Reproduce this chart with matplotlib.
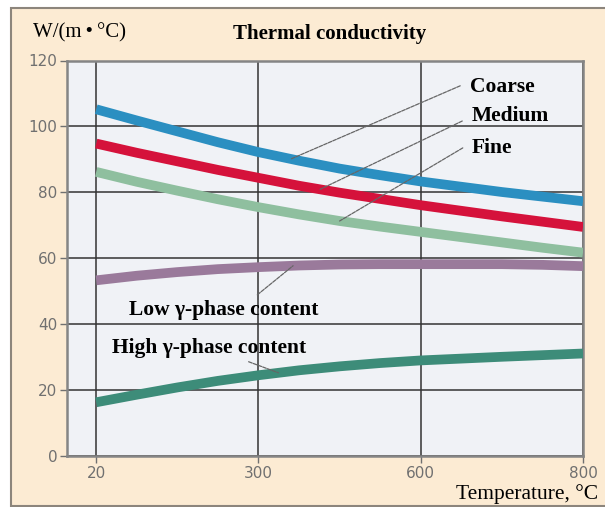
import numpy as np
import matplotlib
matplotlib.use("Agg")
import matplotlib.pyplot as plt
from matplotlib.patches import Rectangle

# temperature ticks are evenly spaced on the chart even though values are not
tick_temps = [20, 300, 600, 800]
tick_pos = [0, 1, 2, 3]

temps = [20, 90, 160, 230, 300, 375, 450, 525, 600, 700, 750, 800]
coarse = [105.2, 101.8, 98.5, 95.2, 92.2, 89.6, 87.2, 85.2, 83.3, 80.1, 78.7, 77.3]
medium = [94.8, 92.0, 89.4, 86.8, 84.4, 82.0, 79.9, 78.0, 76.1, 72.7, 71.1, 69.5]
fine = [86.2, 83.2, 80.5, 77.9, 75.5, 73.3, 71.3, 69.6, 68.0, 64.8, 63.2, 61.7]
low_gamma = [53.3, 54.7, 55.8, 56.7, 57.3, 57.8, 58.1, 58.2, 58.2, 58.2, 58.0, 57.6]
high_gamma = [16.3, 18.6, 20.8, 22.8, 24.5, 26.0, 27.2, 28.2, 29.0, 30.1, 30.6, 31.1]

y_ticks = [0, 20, 40, 60, 80, 100, 120]


def to_pos(t):
    return np.interp(t, tick_temps, tick_pos)


def on_curve(vals, t):
    return (to_pos(t), np.interp(t, temps, vals))


serif = ["Liberation Serif", "DejaVu Serif"]

fig = plt.figure(figsize=(6.05, 5.07), dpi=100, facecolor="white")
fig.patches.append(Rectangle((11 / 605, 1 / 507), 1, 498 / 507, transform=fig.transFigure,
                             facecolor="#fcebd3", edgecolor="#8c857c", lw=1.5, zorder=-5))

ax = fig.add_axes([67 / 605, 51 / 507, 516 / 605, 395.5 / 507])
ax.set_zorder(2)
ax.set_facecolor("#f0f2f6")

series = [
    (coarse, "#2b8fc1"),
    (medium, "#d5123b"),
    (fine, "#8fbf9f"),
    (low_gamma, "#9a7a9b"),
    (high_gamma, "#3d8c79"),
]
xs = to_pos(temps)
for vals, col in series:
    ax.plot(xs, vals, color=col, lw=7, solid_capstyle="butt", zorder=3)

ax.set_xlim(-0.18, 3)
ax.set_ylim(0, 120)
ax.set_xticks(tick_pos)
ax.set_xticklabels([str(t) for t in tick_temps])
ax.set_yticks(y_ticks)
ax.grid(True, color="#333333", lw=1.1, zorder=1)
ax.set_axisbelow(True)
for s in ax.spines.values():
    s.set_color("#858585")
    s.set_linewidth(1.8)
ax.tick_params(colors="#707070", labelcolor="#707070", labelsize=11, length=5, width=1, pad=2)

# leader lines, from label to curve
lead = dict(arrowstyle="-", color="#666666", lw=0.9, linestyle=(0, (3, 1)),
            shrinkA=0, shrinkB=0)
bold = dict(fontfamily=serif, fontweight="bold", fontsize=15.5, color="black")

ax.annotate("", xy=on_curve(coarse, 360), xytext=(0.762, 0.936),
            textcoords="axes fraction", arrowprops=lead, zorder=4)
ax.annotate("", xy=on_curve(medium, 414), xytext=(0.766, 0.847),
            textcoords="axes fraction", arrowprops=lead, zorder=4)
ax.annotate("", xy=on_curve(fine, 450), xytext=(0.767, 0.779),
            textcoords="axes fraction", arrowprops=lead, zorder=4)
ax.annotate("", xy=on_curve(low_gamma, 364), xytext=(to_pos(298), 48.9),
            arrowprops=lead, zorder=4)
ax.annotate("", xy=on_curve(high_gamma, 337), xytext=(to_pos(283), 28.6),
            arrowprops=lead, zorder=4)

ax.text(0.781, 0.933, "Coarse", transform=ax.transAxes, va="center", **bold)
ax.text(0.785, 0.860, "Medium", transform=ax.transAxes, va="center", **bold)
ax.text(0.785, 0.779, "Fine", transform=ax.transAxes, va="center", **bold)
ax.text(0.120, 0.369, "Low γ-phase content", transform=ax.transAxes, va="center", **bold)
ax.text(0.087, 0.273, "High γ-phase content", transform=ax.transAxes, va="center", **bold)

fig.text(33 / 605, 1 - 33 / 507, "W/(m\u2009\u2022\u2009°C)", fontfamily=serif, fontsize=15,
         va="center")
fig.text(330 / 605, 1 - 34 / 507, "Thermal conductivity", fontfamily=serif, fontsize=15,
         fontweight="bold", ha="center", va="center")
fig.text(598 / 605, 1 - 494 / 507, "Temperature, °C", fontfamily=serif, fontsize=15.5,
         ha="right", va="center")

fig.savefig("out.png", dpi=100, facecolor=fig.get_facecolor())
